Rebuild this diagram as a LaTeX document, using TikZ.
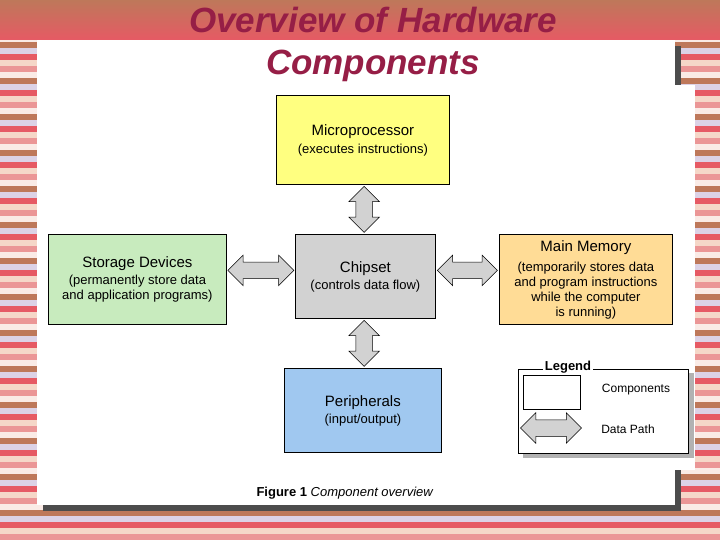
\documentclass[tikz,border=0pt]{standalone}
\usepackage{fontspec}
\setmainfont{Liberation Sans}
\usetikzlibrary{shapes.arrows,calc}
\definecolor{ttl}{RGB}{150,30,70}
\definecolor{yel}{RGB}{255,255,128}
\definecolor{gry}{RGB}{210,210,210}
\definecolor{grn}{RGB}{200,235,190}
\definecolor{org}{RGB}{255,220,150}
\definecolor{blu}{RGB}{160,200,240}
\definecolor{sA}{RGB}{235,150,150}
\definecolor{sB}{RGB}{250,235,230}
\definecolor{sC}{RGB}{190,120,90}
\definecolor{sD}{RGB}{220,210,230}
\definecolor{sE}{RGB}{230,90,100}
\definecolor{sF}{RGB}{245,215,200}
\tikzset{
 comp/.style={draw=black,line width=0.8pt,anchor=north west,inner sep=0},
 txt/.style={font=\fontsize{15}{17}\selectfont},
 stxt/.style={font=\fontsize{13}{15}\selectfont,align=center},
 darrow/.style={double arrow,draw=black,fill=gry,line width=0.5pt,inner xsep=0pt,inner ysep=8pt,minimum width=30pt,double arrow head extend=7pt,double arrow head indent=0pt},
}
\begin{document}
\begin{tikzpicture}[x=1pt,y=-1pt]
\useasboundingbox (0,0) rectangle (720,540);
% background stripes
\foreach \i [count=\c] in {0,6,...,540}{
  \pgfmathtruncatemacro\m{mod(\c,6)}
  \ifcase\m \def\cc{sA}\or\def\cc{sB}\or\def\cc{sC}\or\def\cc{sD}\or\def\cc{sE}\or\def\cc{sF}\fi
  \fill[\cc] (0,\i) rectangle (720,\i+6);
}
\fill[top color=sC,bottom color=sE] (0,0) rectangle (720,40);
% page
\fill[black!70] (43,46) rectangle (681,511);
\fill[white] (37,40) rectangle (675,505);
\fill[white] (37,85) rectangle (695,470);
% title
\node[font=\fontsize{35}{37}\selectfont\bfseries\itshape,text=ttl] (t1) at (373,20) {Overview of Hardware};
\node[font=\fontsize{35}{37}\selectfont\bfseries\itshape,text=ttl] (t2) at (373,66) {Components};
% components
\node[comp,fill=yel,minimum width=173,minimum height=89] (mp) at (276,95) {};
\node[txt] at ($(mp.north)+(0,37)$) {Microprocessor};
\node[stxt] at ($(mp.north)+(0,55)$) {(executes instructions)};
\node[comp,fill=gry,minimum width=140,minimum height=84] (cs) at (295,234) {};
\node[txt] at ($(cs.north)+(0,35)$) {Chipset};
\node[stxt] at ($(cs.north)+(0,52)$) {(controls data flow)};
\node[comp,fill=grn,minimum width=178,minimum height=90] (sd) at (48,234) {};
\node[txt] at ($(sd.north)+(0,30)$) {Storage Devices};
\node[stxt] at ($(sd.north)+(0,55)$) {(permanently store data\\and application programs)};
\node[comp,fill=org,minimum width=173,minimum height=90] (mm) at (499,234) {};
\node[txt] at ($(mm.north)+(0,14)$) {Main Memory};
\node[stxt] at ($(mm.north)+(0,57)$) {(temporarily stores data\\and program instructions\\while the computer\\is running)};
\node[comp,fill=blu,minimum width=157,minimum height=84] (pe) at (284,368) {};
\node[txt] at ($(pe.north)+(0,35)$) {Peripherals};
\node[stxt] at ($(pe.north)+(0,52)$) {(input/output)};
% data paths
\node[darrow,minimum height=46,rotate=90] (a1) at ($(mp.south)!0.5!(cs.north)$) {};
\node[darrow,minimum height=46,rotate=90] (a2) at ($(cs.south)!0.5!(pe.north)$) {};
\node[darrow,minimum height=66] (a3) at ($(sd.east|-cs.west)!0.5!(cs.west)+(0,-6)$) {};
\node[darrow,minimum height=60] (a4) at ($(cs.east)!0.5!(mm.west|-cs.east)+(0,-6)$) {};
% legend
\fill[black!30] (523,373) rectangle (694,458);
\node[draw=black,line width=1.2pt,fill=white,anchor=north west,minimum width=170,minimum height=84,inner sep=0] (lg) at (518,369) {};
\node[fill=white,font=\fontsize{13}{15}\selectfont\bfseries,inner sep=2pt] at (568,367) {Legend};
\node[comp,fill=white,minimum width=57,minimum height=34] (lb) at (523,375) {};
\node[font=\fontsize{12}{14}\selectfont] at (636,390) {Components};
\node[darrow,minimum height=61] (la) at (551,428) {};
\node[font=\fontsize{12}{14}\selectfont] at (628,429) {Data Path};
% caption
\node[font=\fontsize{13}{15}\selectfont] (cap) at (345,493) {\textbf{Figure 1} \textit{Component overview}};
\end{tikzpicture}
\end{document}
